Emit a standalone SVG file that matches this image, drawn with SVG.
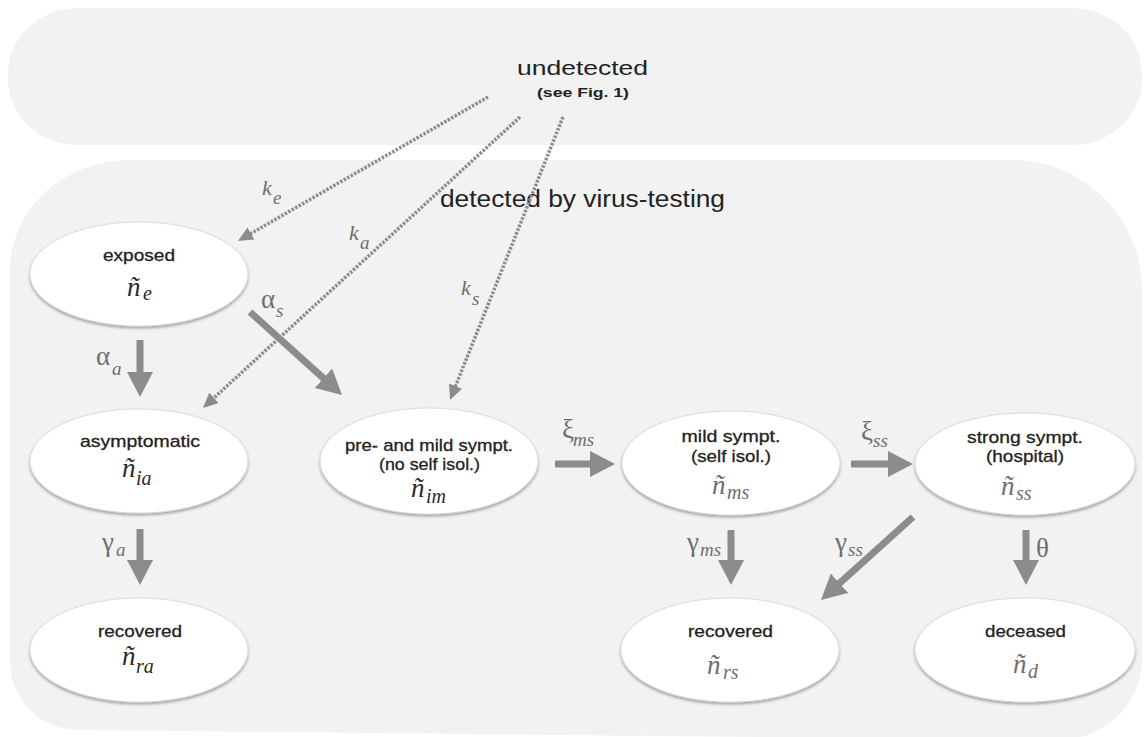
<svg xmlns="http://www.w3.org/2000/svg" width="1145" height="737" viewBox="0 0 1145 737">
<defs>
<style>
.panel{fill:#f2f2f2}
.title{font-family:"Liberation Sans",Arial,sans-serif;fill:#222;text-anchor:middle}
.node ellipse{fill:#fff;stroke:#d6d6d6;stroke-width:0.8;filter:url(#sh)}
.lbl{font-family:"Liberation Sans",Arial,sans-serif;font-size:17px;fill:#222;stroke:#222;stroke-width:0.3;text-anchor:middle}
.var{font-family:"Liberation Serif","Times New Roman",serif;font-style:italic;font-size:27px}
.sub{font-family:"Liberation Serif","Times New Roman",serif;font-style:italic;font-size:20px}
.dark{fill:#2a2a2a}
.grey{fill:#6e6e6e}
.rate{font-family:"Liberation Serif","Times New Roman",serif;fill:#6e6e6e;font-size:27px}
.rate .s{font-style:italic;font-size:19px}
.rate .k{font-style:italic;font-size:22px}
.solid{stroke:#8c8c8c;stroke-width:7;fill:none;marker-end:url(#ah)}
.dot{stroke:#8c8c8c;stroke-width:3.5;stroke-dasharray:2.5 1.5;fill:none;marker-end:url(#dh)}
</style>
<filter id="sh" x="-10%" y="-10%" width="120%" height="130%"><feDropShadow dx="0" dy="2" stdDeviation="1.8" flood-color="#000" flood-opacity="0.35"/></filter>
<marker id="ah" markerUnits="userSpaceOnUse" viewBox="0 -13 25 26" refX="1" refY="0" markerWidth="25" markerHeight="26" orient="auto"><path d="M0,-13 L25,0 L0,13 z" fill="#8c8c8c"/></marker>
<marker id="dh" markerUnits="userSpaceOnUse" viewBox="0 -7 15 14" refX="1" refY="0" markerWidth="15" markerHeight="14" orient="auto"><path d="M0,-7 L15,0 L0,7 z" fill="#8c8c8c"/></marker>
</defs>
<rect width="1145" height="737" fill="#fff"/>
<g id="panel-undetected">
<rect class="panel" x="8" y="8" width="1134" height="137" rx="70" ry="66"/>
<text class="title" x="582.5" y="75" font-size="21" textLength="131" lengthAdjust="spacingAndGlyphs">undetected</text>
<text class="title" x="583" y="97" font-size="13" font-weight="bold" textLength="92" lengthAdjust="spacingAndGlyphs">(see Fig. 1)</text>
</g>
<g id="panel-detected">
<path class="panel" d="M130 160 L1012 160 A130 130 0 0 1 1142 290 L1142 660 A85 80 0 0 1 1057 740 L78 730 A68 68 0 0 1 10 662 L10 270 A120 110 0 0 1 130 160 Z"/>
<text class="title" x="582.5" y="207" font-size="23" textLength="285" lengthAdjust="spacingAndGlyphs">detected by virus-testing</text>
</g>
<g id="connectors">
<line class="solid" x1="140" y1="340" x2="140" y2="373"/>
<line class="solid" x1="250" y1="312" x2="324.2" y2="378.9"/>
<line class="solid" x1="140" y1="529" x2="140" y2="561"/>
<line class="solid" x1="555" y1="464" x2="591" y2="464"/>
<line class="solid" x1="851" y1="464" x2="889" y2="464"/>
<line class="solid" x1="731" y1="530" x2="731" y2="561"/>
<line class="solid" x1="913" y1="517" x2="838.8" y2="583.9"/>
<line class="solid" x1="1026" y1="530" x2="1026" y2="561"/>
<line class="dot" x1="488" y1="97" x2="250.1" y2="234"/>
<line class="dot" x1="520" y1="117" x2="213.3" y2="398.5"/>
<line class="dot" x1="563" y1="117" x2="455.2" y2="387"/>
<text class="rate"><tspan class="k" x="262" y="195">k</tspan><tspan class="s" x="273" y="204">e</tspan></text>
<text class="rate"><tspan class="k" x="349" y="240">k</tspan><tspan class="s" x="360" y="249">a</tspan></text>
<text class="rate"><tspan class="k" x="461" y="295">k</tspan><tspan class="s" x="472" y="305">s</tspan></text>
<text class="rate"><tspan x="261" y="308">α</tspan><tspan class="s" x="276" y="317">s</tspan></text>
<text class="rate"><tspan x="96" y="365">α</tspan><tspan class="s" x="112" y="375">a</tspan></text>
<text class="rate"><tspan x="102" y="551">γ</tspan><tspan class="s" x="116" y="556">a</tspan></text>
<text class="rate"><tspan x="562" y="438">ξ</tspan><tspan class="s" x="573" y="446">ms</tspan></text>
<text class="rate"><tspan x="861" y="440">ξ</tspan><tspan class="s" x="873" y="447">ss</tspan></text>
<text class="rate"><tspan x="687" y="551">γ</tspan><tspan class="s" x="700" y="556">ms</tspan></text>
<text class="rate"><tspan x="835" y="551">γ</tspan><tspan class="s" x="848" y="556">ss</tspan></text>
<text class="rate" x="1036" y="557">θ</text>
</g>
<g id="node-exposed" class="node">
<ellipse cx="139" cy="274" rx="109" ry="52"/>
<text class="lbl" x="139" y="261" textLength="72" lengthAdjust="spacingAndGlyphs">exposed</text>
<text class="dark"><tspan class="var" x="127" y="296">ñ</tspan><tspan class="sub" x="143" y="300">e</tspan></text>
</g>
<g id="node-asymptomatic" class="node">
<ellipse cx="139" cy="461" rx="109" ry="52"/>
<text class="lbl" x="140" y="447" textLength="120" lengthAdjust="spacingAndGlyphs">asymptomatic</text>
<text class="dark"><tspan class="var" x="122" y="477">ñ</tspan><tspan class="sub" x="136" y="485">ia</tspan></text>
</g>
<g id="node-recovered-a" class="node">
<ellipse cx="139" cy="650" rx="109" ry="52"/>
<text class="lbl" x="140" y="637" textLength="84" lengthAdjust="spacingAndGlyphs">recovered</text>
<text class="dark"><tspan class="var" x="122" y="665">ñ</tspan><tspan class="sub" x="136" y="673">ra</tspan></text>
</g>
<g id="node-pre-mild" class="node">
<ellipse cx="429" cy="461" rx="109" ry="53"/>
<text class="lbl" x="429" y="451" textLength="168" lengthAdjust="spacingAndGlyphs">pre- and mild sympt.</text>
<text class="lbl" x="429.5" y="470" textLength="101" lengthAdjust="spacingAndGlyphs">(no self isol.)</text>
<text class="dark"><tspan class="var" x="411" y="497">ñ</tspan><tspan class="sub" x="426" y="503">im</tspan></text>
</g>
<g id="node-mild" class="node">
<ellipse cx="731" cy="463" rx="109" ry="52"/>
<text class="lbl" x="731" y="442" textLength="99" lengthAdjust="spacingAndGlyphs">mild sympt.</text>
<text class="lbl" x="731" y="462" textLength="80" lengthAdjust="spacingAndGlyphs">(self isol.)</text>
<text class="grey"><tspan class="var" x="712" y="494">ñ</tspan><tspan class="sub" x="727" y="499">ms</tspan></text>
</g>
<g id="node-strong" class="node">
<ellipse cx="1025" cy="464" rx="110" ry="51"/>
<text class="lbl" x="1025" y="443" textLength="116" lengthAdjust="spacingAndGlyphs">strong sympt.</text>
<text class="lbl" x="1025" y="462" textLength="78" lengthAdjust="spacingAndGlyphs">(hospital)</text>
<text class="grey"><tspan class="var" x="1001" y="495">ñ</tspan><tspan class="sub" x="1016" y="500">ss</tspan></text>
</g>
<g id="node-recovered-s" class="node">
<ellipse cx="730" cy="650" rx="109" ry="52"/>
<text class="lbl" x="730.5" y="637" textLength="85" lengthAdjust="spacingAndGlyphs">recovered</text>
<text class="grey"><tspan class="var" x="707" y="674">ñ</tspan><tspan class="sub" x="723" y="679">rs</tspan></text>
</g>
<g id="node-deceased" class="node">
<ellipse cx="1025" cy="650" rx="110" ry="52"/>
<text class="lbl" x="1025.5" y="637" textLength="81" lengthAdjust="spacingAndGlyphs">deceased</text>
<text class="grey"><tspan class="var" x="1013" y="673">ñ</tspan><tspan class="sub" x="1028" y="678">d</tspan></text>
</g>
</svg>
